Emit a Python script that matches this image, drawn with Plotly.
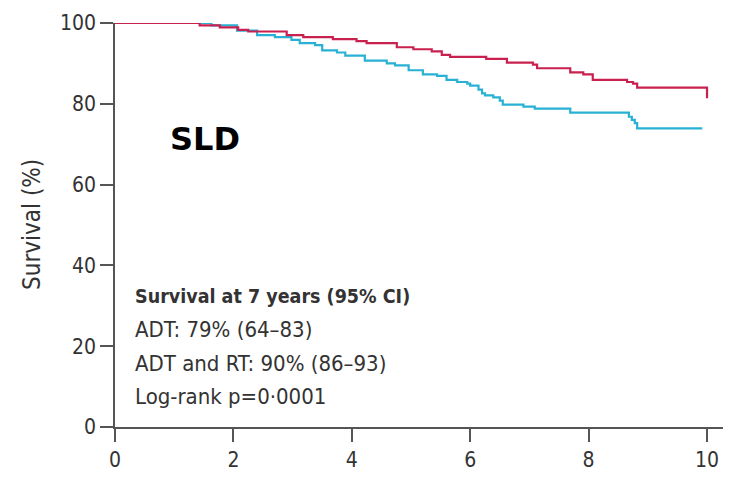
import plotly.graph_objects as go

# ADT and RT (red) – Kaplan-Meier step times (years) and survival (%)
red_time = [0, 1.43, 1.77, 2.08, 2.25, 2.90, 3.18, 3.68, 4.08, 4.25, 4.76, 5.04, 5.35, 5.52,
            5.66, 6.27, 6.62, 7.06, 7.13, 7.69, 7.91, 8.07, 8.65, 8.75, 8.82, 10.0, 10.0]
red_surv = [100, 99.4, 98.9, 98.3, 97.9, 97.0, 96.5, 96.0, 95.5, 95.0, 94.0, 93.5, 93.0, 92.1,
            91.6, 91.1, 90.2, 89.7, 88.8, 87.8, 87.3, 85.9, 85.4, 85.0, 84.0, 84.0, 81.4]

# ADT (blue)
blue_time = [0, 1.63, 2.06, 2.40, 2.70, 2.98, 3.12, 3.38, 3.50, 3.75, 3.89, 4.22, 4.59, 4.73,
             4.96, 5.20, 5.44, 5.60, 5.78, 5.95, 6.00, 6.14, 6.20, 6.25, 6.39, 6.50, 6.55, 6.90,
             7.09, 7.69, 8.68, 8.73, 8.78, 8.82, 9.92]
blue_surv = [100, 99.4, 98.1, 97.0, 96.5, 95.8, 95.0, 94.5, 93.2, 92.7, 91.9, 90.7, 90.0, 89.5,
             88.3, 87.3, 86.9, 85.9, 85.4, 85.0, 84.5, 83.5, 82.6, 82.1, 81.6, 80.8, 79.8, 79.3,
             78.8, 77.8, 76.8, 76.0, 75.2, 73.9, 73.9]

x_ticks = [0, 2, 4, 6, 8, 10]
y_ticks = [0, 20, 40, 60, 80, 100]

info_lines = [
    "<b>Survival at 7 years (95% CI)</b>",
    "ADT: 79% (64–83)",
    "ADT and RT: 90% (86–93)",
    "Log-rank p=0·0001",
]
info_sizes = [19.5, 22, 22, 22]
info_y = [32.4, 24.1, 15.8, 7.5]

RED = "#C9214F"
BLUE = "#27B1D4"
FONT = "DejaVu Sans Condensed, Liberation Sans Narrow, DejaVu Sans, sans-serif"
TXT = "#333333"

fig = go.Figure()
fig.add_trace(go.Scatter(x=blue_time, y=blue_surv, mode="lines", line=dict(color=BLUE, width=2.2, shape="hv"),
                         cliponaxis=False, showlegend=False))
fig.add_trace(go.Scatter(x=red_time, y=red_surv, mode="lines", line=dict(color=RED, width=2.2, shape="hv"),
                         cliponaxis=False, showlegend=False))

for txt, yy, sz in zip(info_lines, info_y, info_sizes):
    fig.add_annotation(x=0.30, y=yy, xref="x", yref="y", text=txt, showarrow=False,
                       xanchor="left", yanchor="middle",
                       font=dict(family=FONT, size=sz, color=TXT))

fig.add_annotation(x=1.52, y=71.3, xref="x", yref="y", text="<b>SLD</b>", showarrow=False,
                   xanchor="center", yanchor="middle",
                   font=dict(family="DejaVu Sans, sans-serif", size=32, color="black"))

fig.add_annotation(x=-0.1365, y=50, xref="paper", yref="y", text="Survival (%)", showarrow=False,
                   textangle=-90, xanchor="center", yanchor="middle",
                   font=dict(family=FONT, size=24, color=TXT))

fig.update_xaxes(range=[0, 10.27], tickvals=x_ticks, ticktext=[str(v) for v in x_ticks],
                 showline=True, linecolor="#555555", linewidth=1.5, ticks="outside", ticklen=13,
                 tickwidth=1.5, tickcolor="#555555", showgrid=False, zeroline=False,
                 tickfont=dict(family=FONT, size=21, color=TXT))
fig.update_yaxes(range=[0, 100], tickvals=y_ticks, ticktext=[str(v) for v in y_ticks],
                 showline=True, linecolor="#555555", linewidth=1.5, ticks="outside", ticklen=13,
                 tickwidth=1.5, tickcolor="#555555", showgrid=False, zeroline=False,
                 tickfont=dict(family=FONT, size=21, color=TXT))

fig.update_layout(width=734, height=483, margin=dict(l=115, r=11, t=18, b=44),
                  plot_bgcolor="white", paper_bgcolor="white")

fig.write_html("out.html")
